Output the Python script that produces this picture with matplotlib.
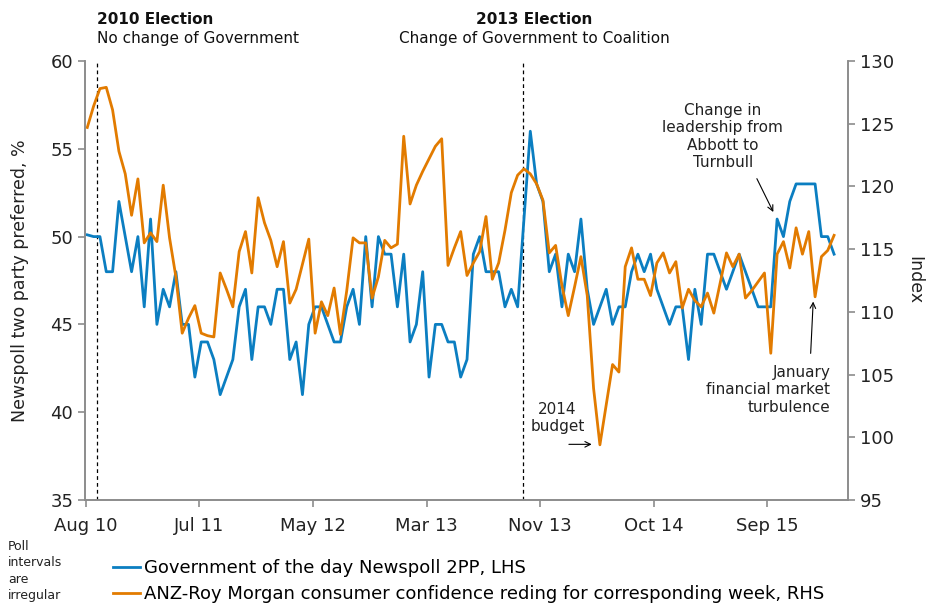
import numpy as np
import matplotlib
matplotlib.use('Agg')
import matplotlib.pyplot as plt

# Government of the day Newspoll 2PP (LHS), one value per poll
newspoll = [50.1, 50, 50, 48, 48, 52, 50, 48, 50, 46,
            51, 45, 47, 46, 48, 45, 45, 42, 44, 44,
            43, 41, 42, 43, 46, 47, 43, 46, 46, 45,
            47, 47, 43, 44, 41, 45, 46, 46, 45, 44,
            44, 46, 47, 45, 50, 46, 50, 49, 49, 46,
            49, 44, 45, 48, 42, 45, 45, 44, 44, 42,
            43, 49, 50, 48, 48, 48, 46, 47, 46, 51,
            56, 53, 52, 48, 49, 46, 49, 48, 51, 47,
            45, 46, 47, 45, 46, 46, 48, 49, 48, 49,
            47, 46, 45, 46, 46, 43, 47, 45, 49, 49,
            48, 47, 48, 49, 48, 47, 46, 46, 46, 51,
            50, 52, 53, 53, 53, 53, 50, 50, 49]

# ANZ-Roy Morgan consumer confidence for the corresponding week (RHS)
confidence = [124.7, 126.4, 127.8, 127.9, 126.1, 122.8, 121.0, 117.7, 120.6, 115.5,
              116.3, 115.6, 120.1, 115.9, 112.8, 108.3, 109.5, 110.5, 108.3, 108.1,
              108.0, 113.1, 111.8, 110.4, 114.8, 116.4, 113.1, 119.1, 117.1, 115.7,
              113.6, 115.6, 110.7, 111.8, 113.8, 115.8, 108.3, 110.8, 109.7, 111.9,
              108.2, 111.7, 115.9, 115.5, 115.5, 111.1, 112.8, 115.7, 115.1, 115.4,
              124.0, 118.6, 120.1, 121.2, 122.2, 123.2, 123.8, 113.7, 115.1, 116.4,
              112.9, 113.9, 114.8, 117.6, 112.6, 113.9, 116.5, 119.5, 120.9, 121.4,
              121.0, 120.2, 118.9, 114.7, 115.3, 112.1, 109.7, 112.0, 114.4, 111.3,
              103.9, 99.4, 102.6, 105.8, 105.2, 113.6, 115.1, 112.6, 112.6, 111.3,
              113.9, 114.7, 113.1, 114.0, 110.3, 111.8, 110.9, 110.4, 111.5, 109.9,
              112.3, 114.7, 113.6, 114.6, 111.1, 111.7, 112.4, 113.1, 106.7, 114.6,
              115.6, 113.5, 116.7, 114.6, 116.4, 111.2, 114.4, 114.9, 116.1]

tick_labels = ['Aug 10', 'Jul 11', 'May 12', 'Mar 13', 'Nov 13', 'Oct 14', 'Sep 15']

# poll number at which each federal election fell
elections = [1.6, 68.8]

blue = '#0B7EC1'
orange = '#E27B00'
grey = '#8C8C8C'

plt.rcParams['font.family'] = 'DejaVu Sans'

fig = plt.figure(figsize=(9.31, 6.08), dpi=100)
ax = fig.add_axes([85 / 931, 1 - 500 / 608, 763 / 931, 439 / 608])
ax2 = ax.twinx()

x = np.arange(len(newspoll))
l1, = ax.plot(x, newspoll, color=blue, lw=2, label='Government of the day Newspoll 2PP, LHS')
l2, = ax2.plot(x, confidence, color=orange, lw=2,
               label='ANZ-Roy Morgan consumer confidence reding for corresponding week, RHS')

for e in elections:
    ax.axvline(e, color='black', lw=0.9, ls=(0, (3, 2.5)), zorder=1)

ax.set_xlim(-0.36, 120.2)
ax.set_ylim(35, 60)
ax2.set_ylim(95, 130)
ax.set_yticks(np.arange(35, 61, 5))
ax2.set_yticks(np.arange(95, 131, 5))
ax.set_xticks(np.arange(len(tick_labels)) * 17.95 - 0.25)
ax.set_xticklabels(tick_labels)

for a in (ax, ax2):
    a.spines['top'].set_visible(False)
    for s in ('left', 'right', 'bottom'):
        a.spines[s].set_color(grey)
        a.spines[s].set_linewidth(1.2)
    a.tick_params(colors=grey, labelcolor='#222222', labelsize=13, length=5, width=1.2)
ax.tick_params(axis='x', pad=7)

ax.set_ylabel('Newspoll two party preferred, %', fontsize=12.5, color='#222222', labelpad=15)
ax2.set_ylabel('Index', fontsize=12.5, color='#222222', rotation=-90, labelpad=21)

# election headers
fig.text(97 / 931, 1 - 20 / 608, '2010 Election', fontsize=11, fontweight='bold', va='center', color='#111111')
fig.text(97 / 931, 1 - 38 / 608, 'No change of Government', fontsize=11, va='center', color='#111111')
fig.text(534 / 931, 1 - 20 / 608, '2013 Election', fontsize=11, fontweight='bold', va='center', ha='center', color='#111111')
fig.text(534 / 931, 1 - 38 / 608, 'Change of Government to Coalition', fontsize=11, va='center', ha='center', color='#111111')

arrow = dict(arrowstyle='->', color='black', lw=0.8, shrinkA=0, shrinkB=0)
ax.annotate('', xy=(108.4, 51.4), xytext=(105.8, 53.3), arrowprops=arrow)
ax.text(100.4, 55.7, 'Change in\nleadership from\nAbbott to\nTurnbull', fontsize=11,
        ha='center', va='center', color='#222222')
ax.annotate('', xy=(114.7, 46.3), xytext=(114.3, 43.35), arrowprops=arrow)
ax.text(117.4, 41.27, 'January\nfinancial market\nturbulence', fontsize=11,
        ha='right', va='center', color='#222222')
ax.annotate('', xy=(79.7, 38.17), xytext=(76.1, 38.17), arrowprops=arrow)
ax.text(74.3, 39.68, '2014\nbudget', fontsize=11, ha='center', va='center', color='#222222')

fig.text(8 / 931, 1 - 540 / 608, 'Poll\nintervals\nare\nirregular', fontsize=9,
         va='top', ha='left', linespacing=1.35, color='#222222')

fig.legend(handles=[l1, l2], loc='upper left', bbox_to_anchor=(113 / 931, 1 - 559 / 608),
           frameon=False, fontsize=13, handlelength=1.5, handletextpad=0.2,
           labelspacing=0.45, borderpad=0, borderaxespad=0)

fig.savefig('out.png', dpi=100)
